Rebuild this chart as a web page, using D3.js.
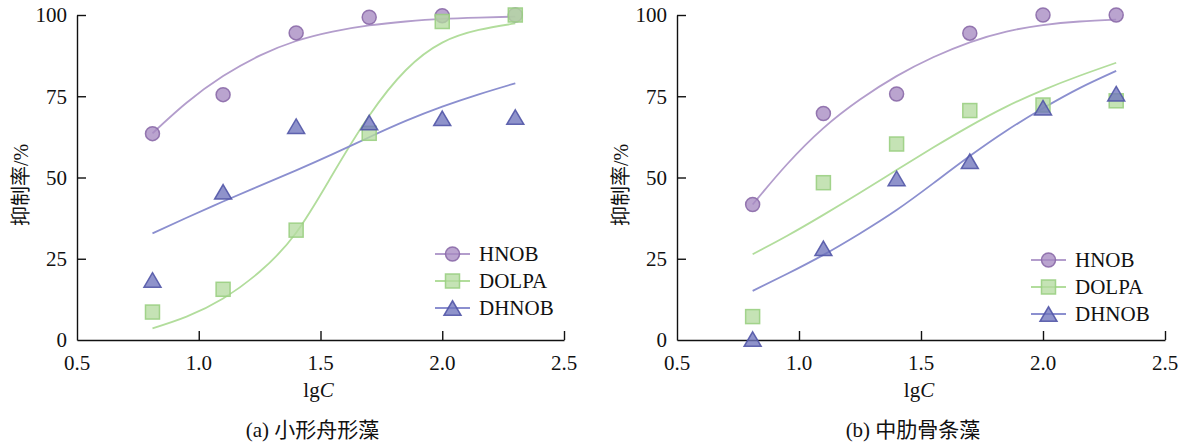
<!DOCTYPE html>
<html><head><meta charset="utf-8">
<script src="https://cdn.jsdelivr.net/npm/d3@7"></script>
<style>
html,body{margin:0;padding:0;background:#fff;}
</style></head>
<body><svg id="c" width="1183" height="445"></svg>
<script>
// ---- data ----
const lgC = [0.81, 1.10, 1.40, 1.70, 2.00, 2.30];
const seriesNames = ["HNOB", "DOLPA", "DHNOB"];
// panel (a) 小形舟形藻 measured points
const aHNOB  = [63.5, 75.5, 94.5, 99.3, 99.8, 100];
const aDOLPA = [8.6, 15.6, 33.8, 63.6, 98.0, 100];
const aDHNOB = [18.5, 45.6, 65.8, 66.9, 68.2, 68.6];
// panel (b) 中肋骨条藻 measured points
const bHNOB  = [41.7, 69.7, 75.7, 94.4, 100, 100];
const bDOLPA = [7.2, 48.4, 60.3, 70.6, 72.3, 73.6];
const bDHNOB = [0.3, 28.2, 49.7, 55.0, 71.5, 75.8];
// fitted curves
const fitX = [0.81, 0.95, 1.10, 1.25, 1.40, 1.55, 1.70, 1.85, 2.00, 2.15, 2.30];
const aFitHNOB  = [63.6, 73.0, 81.2, 87.5, 92.0, 94.9, 96.8, 98.0, 98.8, 99.2, 99.5];
const aFitDOLPA = [3.6, 7.2, 12.8, 21.0, 33.0, 51.0, 69.0, 83.0, 91.5, 95.4, 97.4];
const aFitDHNOB = [32.8, 37.6, 42.6, 47.4, 52.2, 57.2, 62.4, 67.4, 71.8, 75.6, 79.0];
const bFitHNOB  = [41.7, 54.0, 65.2, 74.0, 81.2, 87.0, 91.6, 94.9, 96.9, 98.0, 98.6];
const bFitDOLPA = [26.4, 32.0, 38.5, 45.3, 52.3, 59.2, 65.8, 71.8, 76.9, 81.3, 85.3];
const bFitDHNOB = [15.1, 20.3, 26.2, 32.8, 40.0, 48.2, 56.6, 64.4, 71.3, 77.5, 82.8];
const xTicks = [1.0, 1.5, 2.0, 2.5];
const xTickLabels = ["0.5", "1.0", "1.5", "2.0", "2.5"];
const yTicks = [0, 25, 50, 75, 100];
const captions = ["(a) 小形舟形藻", "(b) 中肋骨条藻"];
const yLabel = "抑制率/%";

// ---- style ----
const FONT = "'Liberation Serif', 'Times New Roman', 'Noto Sans CJK SC', serif";
const styles = {
  HNOB:  {line:"#b39dcc", fill:"#a68ac2", stroke:"#8b6aa9", shape:"circle"},
  DOLPA: {line:"#b2dd9c", fill:"#b5dba0", stroke:"#9acf82", shape:"square"},
  DHNOB: {line:"#8b8fcf", fill:"#6f74bd", stroke:"#5257a7", shape:"triangle"}
};

const svg = d3.select("#c");

function txt(sel){
  return sel.attr("font-family", FONT).attr("fill", "#111").style("font-size", "21px");
}

function marker(g, shape, st, x, y){
  let el;
  if (shape === "circle") {
    el = g.append("circle").attr("cx", x).attr("cy", y).attr("r", 7);
  } else if (shape === "square") {
    el = g.append("rect").attr("x", x-7).attr("y", y-7).attr("width", 14).attr("height", 14);
  } else {
    const w = 8.5, h = 14.5;
    el = g.append("path").attr("d", `M${x},${y-h/2}L${x+w},${y+h/2}L${x-w},${y+h/2}Z`);
  }
  el.attr("fill", st.fill).attr("fill-opacity", 0.78)
    .attr("stroke", st.stroke).attr("stroke-width", 1.5).attr("stroke-opacity", 0.9);
}

function panel(cfg){
  const x = d3.scaleLinear().domain([0.5, 2.5]).range([cfg.x0, cfg.x1]);
  const y = d3.scaleLinear().domain([0, 100]).range([340, 15]);
  const g = svg.append("g");

  // axes
  const ax = g.append("g").attr("transform", "translate(0,340)")
    .call(d3.axisBottom(x).tickValues(xTicks).tickSizeInner(-9).tickSizeOuter(0).tickFormat(""));
  const ay = g.append("g").attr("transform", `translate(${cfg.x0},0)`)
    .call(d3.axisLeft(y).tickValues([25, 50, 75, 100]).tickSizeInner(-9).tickSizeOuter(0).tickFormat(""));
  [ax, ay].forEach(a => {
    a.select(".domain").attr("stroke", "#111").attr("stroke-width", 1.4);
    a.selectAll(".tick line").attr("stroke", "#111").attr("stroke-width", 1.4);
  });

  // tick labels
  const xl = [0.5].concat(xTicks);
  txt(g.selectAll(".xl").data(xl).enter().append("text"))
    .attr("x", d => x(d)).attr("y", 370).attr("text-anchor", "middle")
    .text((d, i) => xTickLabels[i]);
  txt(g.selectAll(".yl").data(yTicks).enter().append("text"))
    .attr("x", cfg.x0 - 10).attr("y", d => y(d)).attr("dy", "0.35em")
    .attr("text-anchor", "end").text(d => d);

  // axis titles
  const t = txt(g.append("text")).attr("x", (cfg.x0 + cfg.x1) / 2 - 2).attr("y", 397)
    .attr("text-anchor", "middle");
  t.append("tspan").text("lg");
  t.append("tspan").style("font-style", "italic").text("C");

  txt(g.append("text")).attr("transform", `translate(${cfg.x0 - 56},185) rotate(-90)`)
    .attr("text-anchor", "middle").attr("dy", "0.35em")
    .style("font-size", "20px").text(yLabel);

  txt(g.append("text")).attr("x", (cfg.x0 + cfg.x1) / 2 - 8).attr("y", 437)
    .attr("text-anchor", "middle").text(cfg.caption);

  // curves
  const line = d3.line().x(d => x(d[0])).y(d => y(d[1])).curve(d3.curveNatural);
  seriesNames.forEach((name, si) => {
    const st = styles[name];
    g.append("path").datum(fitX.map((v, i) => [v, cfg.fits[si][i]]))
      .attr("d", line).attr("fill", "none").attr("stroke", st.line).attr("stroke-width", 1.8);
  });
  // markers
  seriesNames.forEach((name, si) => {
    const st = styles[name];
    const mg = g.append("g");
    lgC.forEach((v, i) => marker(mg, st.shape, st, x(v), y(cfg.points[si][i])));
  });

  // legend
  const lg = g.append("g");
  seriesNames.forEach((name, si) => {
    const st = styles[name];
    const yy = cfg.legY + si * 27;
    lg.append("line").attr("x1", cfg.legX).attr("x2", cfg.legX + 35)
      .attr("y1", yy).attr("y2", yy).attr("stroke", st.line).attr("stroke-width", 1.8);
    marker(lg, st.shape, st, cfg.legX + 17.5, yy);
    txt(lg.append("text")).attr("x", cfg.legX + 44).attr("y", yy).attr("dy", "0.35em")
      .text(name);
  });
}

panel({x0: 77, x1: 564, caption: captions[0], legX: 435, legY: 254,
  points: [aHNOB, aDOLPA, aDHNOB], fits: [aFitHNOB, aFitDOLPA, aFitDHNOB]});
panel({x0: 677, x1: 1165, caption: captions[1], legX: 1031, legY: 260,
  points: [bHNOB, bDOLPA, bDHNOB], fits: [bFitHNOB, bFitDOLPA, bFitDHNOB]});
</script></body></html>
